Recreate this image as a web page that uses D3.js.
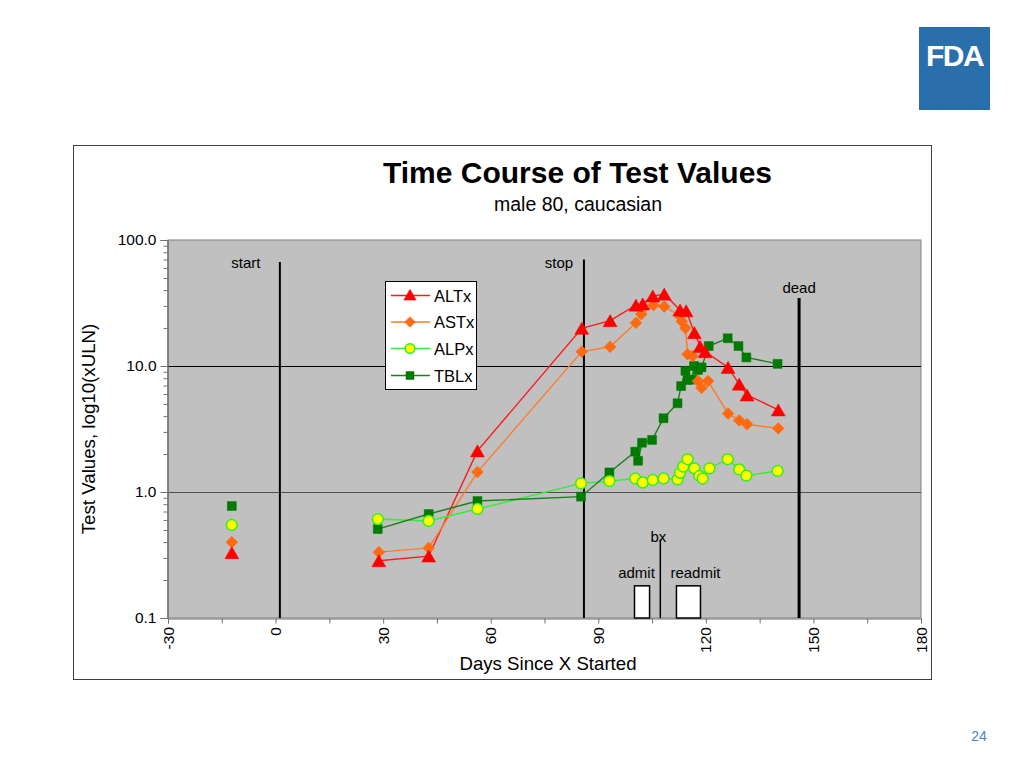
<!DOCTYPE html>
<html>
<head>
<meta charset="utf-8">
<script src="https://cdn.jsdelivr.net/npm/d3@7/dist/d3.min.js"></script>
<style>
  html, body { margin: 0; padding: 0; background: #ffffff; }
  svg { display: block; font-family: "Liberation Sans", Arial, sans-serif; }
</style>
</head>
<body>
<svg id="chart" width="1024" height="768"></svg>
<script>
// ---------------- DATA ----------------
const altDays = [-12.2, 28.8, 42.7, 56.3, 85.4, 93.3, 100.5, 102.4, 105.2, 108.4, 112.8, 114.5, 116.8, 118.4, 119.8, 126.2, 129.3, 131.5, 140.2];
const altVals = [0.33, 0.285, 0.31, 2.12, 19.9, 22.9, 30.4, 31.1, 35.9, 37.2, 27.8, 27.4, 18.4, 14.3, 13.0, 9.75, 7.18, 5.89, 4.48];

const astDays = [-12.2, 28.8, 42.7, 56.3, 85.4, 93.3, 100.5, 102.0, 105.4, 108.4, 112.4, 113.3, 114.3, 114.9, 116.3, 117.8, 118.8, 120.6, 126.2, 129.3, 131.5, 140.2];
const astVals = [0.40, 0.333, 0.36, 1.44, 13.0, 14.2, 22.0, 25.8, 30.4, 29.6, 25.4, 22.6, 20.0, 12.4, 12.0, 7.6, 6.7, 7.6, 4.2, 3.7, 3.45, 3.2];

const alpDays = [-12.2, 28.5, 42.7, 56.3, 85.2, 93.1, 100.3, 102.4, 105.2, 108.2, 112.1, 112.8, 113.7, 114.9, 116.8, 118.2, 119.1, 121.0, 126.1, 129.3, 131.3, 140.0];
const alpVals = [0.547, 0.61, 0.589, 0.733, 1.17, 1.22, 1.28, 1.19, 1.245, 1.28, 1.26, 1.42, 1.59, 1.82, 1.54, 1.34, 1.28, 1.54, 1.82, 1.51, 1.35, 1.47];

const tblDays = [-12.2, 28.5, 42.7, 56.3, 85.2, 93.1, 100.3, 101.1, 102.2, 105.0, 108.2, 112.1, 113.1, 114.3, 114.9, 116.1, 116.7, 117.8, 118.8, 120.8, 126.1, 129.1, 131.3, 140.0];
const tblVals = [0.774, 0.508, 0.669, 0.848, 0.918, 1.43, 2.09, 1.77, 2.46, 2.59, 3.85, 5.06, 6.93, 9.15, 7.74, 7.8, 10.0, 9.3, 9.75, 14.4, 16.6, 14.4, 11.7, 10.4];

const seriesNames = ["ALTx", "ASTx", "ALPx", "TBLx"];

// event lines: day, top value
const eventNames = ["start", "stop", "dead", "bx"];
const eventDays = [1.2, 86.0, 146.0, 107.3];
const eventTops = [67, 70, 34.7, 0.42];

// hospital stays
const stayNames = ["admit", "readmit"];
const stayStart = [100.1, 111.8];
const stayEnd = [104.3, 118.5];
const stayTop = 0.18;

const xTickLabels = ["-30", "0", "30", "60", "90", "120", "150", "180"];
const yTickLabels = ["0.1", "1.0", "10.0", "100.0"];

// ---------------- DRAW ----------------
const svg = d3.select("#chart");

// FDA logo
svg.append("rect").attr("x", 919).attr("y", 27).attr("width", 71).attr("height", 83).attr("fill", "#2a6fac");
svg.append("text").attr("x", 954.5).attr("y", 66).attr("text-anchor", "middle")
  .attr("fill", "#ffffff").attr("font-size", 30).attr("font-weight", "bold")
  .attr("letter-spacing", -1.5).text("FDA");

// page number
svg.append("text").attr("x", 979).attr("y", 741).attr("text-anchor", "middle")
  .attr("fill", "#4a86c5").attr("font-size", 14).text("24");

// chart frame
svg.append("rect").attr("x", 73.5).attr("y", 145.5).attr("width", 858).attr("height", 534)
  .attr("fill", "#ffffff").attr("stroke", "#404040").attr("stroke-width", 1);

// title
svg.append("text").attr("x", 577.5).attr("y", 183).attr("text-anchor", "middle")
  .attr("font-size", 30).attr("font-weight", "bold").attr("fill", "#000").text("Time Course of Test Values");
svg.append("text").attr("x", 578).attr("y", 211).attr("text-anchor", "middle")
  .attr("font-size", 19.5).attr("fill", "#000").text("male 80, caucasian");

const pLeft = 168, pRight = 921, pTop = 240, pBottom = 618;
const x = d3.scaleLinear().domain([-30, 180]).range([pLeft, pRight]);
const y = d3.scaleLog().domain([0.1, 100]).range([pBottom, pTop]);

// plot area
svg.append("rect").attr("x", pLeft).attr("y", pTop).attr("width", pRight - pLeft).attr("height", pBottom - pTop)
  .attr("fill", "#c0c0c0").attr("stroke", "#808080").attr("stroke-width", 1);

// gridlines at 1 and 10
[1, 10].forEach(v => {
  svg.append("line").attr("x1", pLeft).attr("x2", pRight)
    .attr("y1", Math.round(y(v)) + 0.5).attr("y2", Math.round(y(v)) + 0.5)
    .attr("stroke", v === 1 ? "#505050" : "#000000").attr("stroke-width", 1);
});

// Y axis
const yMajor = [0.1, 1, 10, 100];
const yMinor = [];
[0.1, 1, 10].forEach(d => { for (let k = 2; k <= 9; k++) yMinor.push(d * k); });
const yAxisMinor = d3.axisLeft(y).tickValues(yMinor).tickSize(4).tickFormat("");
const yAxisMajor = d3.axisLeft(y).tickValues(yMajor).tickSize(7).tickPadding(4)
  .tickFormat((d, i) => yTickLabels[i]);
const gyMinor = svg.append("g").attr("transform", `translate(${pLeft - 0.5},0)`).call(yAxisMinor);
const gy = svg.append("g").attr("transform", `translate(${pLeft - 0.5},0)`).call(yAxisMajor);
[gy, gyMinor].forEach(g => {
  g.selectAll("path.domain").attr("stroke", "#707070");
  g.selectAll("line").attr("stroke", "#707070");
});
gy.selectAll("text").attr("font-size", 15.5).attr("fill", "#000").attr("font-family", "Liberation Sans, Arial, sans-serif");

// X axis
const xTicks = d3.range(-30, 181, 15);
const xAxis = d3.axisBottom(x).tickValues(xTicks).tickSize(5).tickFormat("");
const gx = svg.append("g").attr("transform", `translate(0,${pBottom + 0.5})`).call(xAxis);
gx.selectAll("path.domain").attr("stroke", "#707070");
gx.selectAll("line").attr("stroke", "#707070");
const xLabVals = xTickLabels.map(Number);
svg.append("g").selectAll("text").data(xLabVals).join("text")
  .attr("transform", d => `translate(${x(d) + 5.5},${627}) rotate(-90)`)
  .attr("text-anchor", "end").attr("font-size", 15.5).attr("fill", "#000")
  .text((d, i) => xTickLabels[i]);

// axis titles
svg.append("text").attr("x", 548).attr("y", 670).attr("text-anchor", "middle")
  .attr("font-size", 18.5).attr("fill", "#000").attr("textLength", 177).attr("lengthAdjust", "spacingAndGlyphs")
  .text("Days Since X Started");
svg.append("text").attr("transform", `translate(95,${429}) rotate(-90)`).attr("text-anchor", "middle")
  .attr("font-size", 18.7).attr("fill", "#000").text("Test Values, log10(xULN)");

// event lines
eventNames.forEach((n, i) => {
  const xx = x(eventDays[i]);
  const isDead = n === "dead";
  svg.append("line").attr("x1", xx).attr("x2", xx).attr("y1", y(eventTops[i])).attr("y2", pBottom)
    .attr("stroke", "#000").attr("stroke-width", isDead ? 3 : (n === "bx" ? 1.5 : 2));
});
// event labels
const evLabelX = { start: x(1.2) - 34, stop: x(86) - 25, dead: x(146), bx: x(107.3) - 2 };
const evLabelY = { start: 268, stop: 268, dead: 293, bx: 542 };
eventNames.forEach(n => {
  svg.append("text").attr("x", evLabelX[n]).attr("y", evLabelY[n]).attr("text-anchor", "middle")
    .attr("font-size", 15).attr("fill", "#000").text(n);
});

// stays
stayNames.forEach((n, i) => {
  svg.append("rect").attr("x", x(stayStart[i])).attr("y", y(stayTop))
    .attr("width", x(stayEnd[i]) - x(stayStart[i])).attr("height", pBottom - y(stayTop))
    .attr("fill", "#ffffff").attr("stroke", "#000").attr("stroke-width", 1.5);
  svg.append("text").attr("x", n === "admit" ? x(stayStart[i]) + 2 : x(stayStart[i]) + 19)
    .attr("y", 578).attr("text-anchor", "middle").attr("font-size", 15).attr("fill", "#000").text(n);
});

// series
const series = [
  { name: seriesNames[0], days: altDays, vals: altVals, line: "#ff1a1a", fill: "#ff0000", stroke: "#ff0000", sym: d3.symbolTriangle, size: 84, rot: 0, dy: 2, first: 1 },
  { name: seriesNames[1], days: astDays, vals: astVals, line: "#ff7a2a", fill: "#ff6a10", stroke: "#ff6a10", sym: d3.symbolSquare, size: 70, rot: 45, dy: 0, first: 1 },
  { name: seriesNames[2], days: alpDays, vals: alpVals, line: "#33ee33", fill: "#ffff00", stroke: "#33ee22", sym: d3.symbolCircle, size: 92, rot: 0, dy: 0, first: 1, sw: 1.5 },
  { name: seriesNames[3], days: tblDays, vals: tblVals, line: "#1b7f1b", fill: "#007a00", stroke: "#007a00", sym: d3.symbolSquare, size: 80, rot: 0, dy: 0, first: 1 }
];

const lineGen = d3.line().x(d => x(d[0])).y(d => y(d[1]));

series.forEach(s => {
  const pts = s.days.map((d, i) => [d, s.vals[i]]).slice(s.first);
  svg.append("path").attr("d", lineGen(pts)).attr("fill", "none")
    .attr("stroke", s.line).attr("stroke-width", 1.4);
});
const order = [3, 2, 1, 0];
order.forEach(k => {
  const s = series[k];
  const pts = s.days.map((d, i) => [d, s.vals[i]]);
  svg.append("g").selectAll("path").data(pts).join("path")
    .attr("d", d3.symbol().type(s.sym).size(s.size))
    .attr("transform", d => `translate(${x(d[0])},${y(d[1]) + s.dy}) rotate(${s.rot})`)
    .attr("fill", s.fill).attr("stroke", s.stroke).attr("stroke-width", s.sw || 0.5);
});

// legend
const lg = svg.append("g");
lg.append("rect").attr("x", 385.5).attr("y", 281.5).attr("width", 91).attr("height", 108)
  .attr("fill", "#ffffff").attr("stroke", "#000").attr("stroke-width", 1);
const legY = [295.5, 322, 348.5, 375.5];
series.forEach((s, i) => {
  lg.append("line").attr("x1", 391).attr("x2", 430).attr("y1", legY[i]).attr("y2", legY[i])
    .attr("stroke", s.line).attr("stroke-width", 1.4);
  lg.append("path").attr("d", d3.symbol().type(s.sym).size(s.size * 0.8))
    .attr("transform", `translate(410,${legY[i] + s.dy * 0.5}) rotate(${s.rot})`)
    .attr("fill", s.fill).attr("stroke", s.stroke).attr("stroke-width", s.sw || 0.5);
  lg.append("text").attr("x", 434).attr("y", legY[i] + 6).attr("font-size", 16.5).attr("fill", "#000")
    .text(s.name);
});
</script>
</body>
</html>
